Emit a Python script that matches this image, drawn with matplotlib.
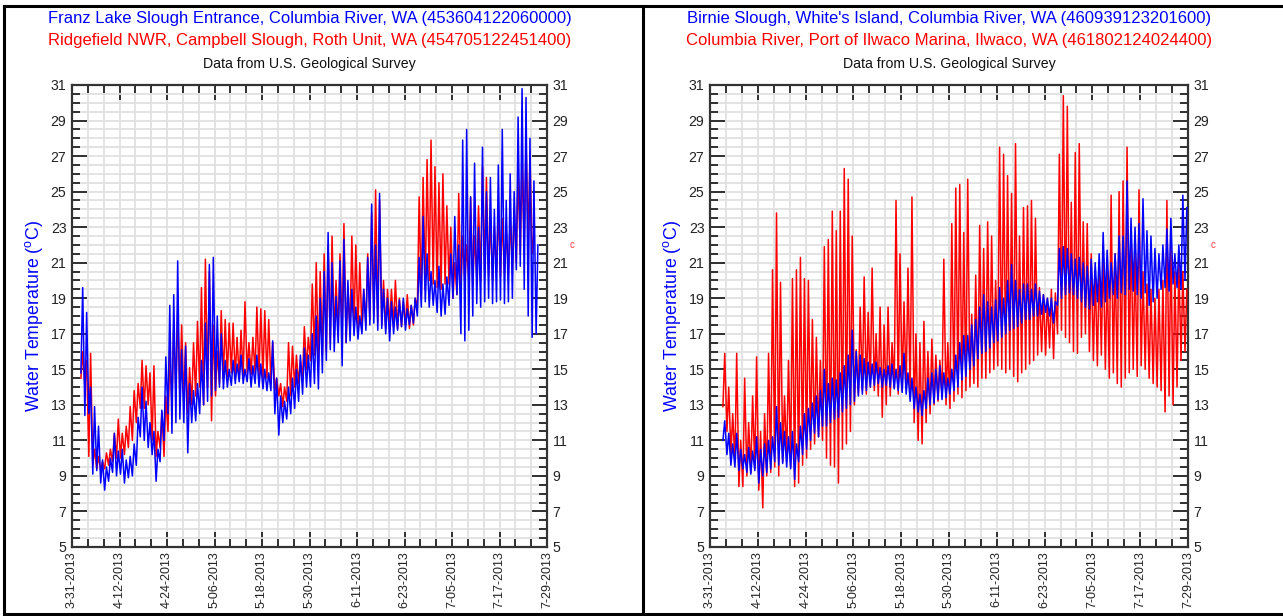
import matplotlib
matplotlib.use("Agg")
import matplotlib.pyplot as plt
from matplotlib.lines import Line2D
from matplotlib.ticker import MultipleLocator, FixedLocator

plt.rcParams['font.family'] = ['Liberation Sans', 'DejaVu Sans']
plt.rcParams['mathtext.fontset'] = 'custom'
plt.rcParams['mathtext.rm'] = 'Liberation Sans'
plt.rcParams['mathtext.it'] = 'Liberation Sans'

# x axis: days since 3-31-2013
date_labels = ["3-31-2013", "4-12-2013", "4-24-2013", "5-06-2013", "5-18-2013",
               "5-30-2013", "6-11-2013", "6-23-2013", "7-05-2013", "7-17-2013",
               "7-29-2013"]
label_days = [0, 12, 24, 36, 48, 60, 72, 84, 96, 108, 120]
y_ticks = list(range(5, 32, 2))

# Franz Lake Slough Entrance (blue, left) - daily max / min, from 4-02
franz_start = 2
franz_hi = [19.6, 18.2, 14.0, 12.9, 11.8, 9.9, 9.5, 10.0, 11.4, 10.4,
            10.5, 9.9, 10.1, 10.8, 12.3, 14.0, 13.2, 12.0, 11.5, 10.5,
            12.7, 15.7, 18.6, 19.2, 21.1, 16.1, 16.3, 14.2, 13.8, 14.2,
            15.5, 17.6, 20.9, 21.3, 18.0, 17.0, 15.5, 15.0, 15.5, 15.3,
            15.8, 15.0, 15.6, 15.2, 15.8, 15.3, 15.0, 14.8, 16.6, 14.5,
            13.5, 13.2, 14.0, 14.5, 15.0, 15.8, 16.2, 15.8, 17.0, 18.0,
            19.0, 20.5, 22.7, 21.0, 19.1, 21.1, 22.3, 20.0, 19.5, 18.5,
            18.0, 19.5, 21.3, 24.3, 22.0, 24.9, 19.5, 19.0, 18.8, 18.5,
            18.9, 19.0, 18.4, 18.6, 19.0, 21.3, 23.6, 21.5, 20.5, 20.0,
            20.8, 19.8, 20.2, 21.5, 23.6, 22.0, 27.9, 28.5, 24.7, 26.6,
            23.0, 27.5, 25.0, 25.8, 24.0, 26.5, 28.5, 24.5, 26.0, 25.0,
            29.2, 30.8, 30.3, 28.0, 25.6, 22.0]
franz_lo = [14.8, 12.4, 12.5, 9.1, 9.3, 8.6, 8.2, 8.7, 9.2, 9.0,
            9.1, 8.6, 8.9, 9.0, 9.6, 11.2, 11.0, 10.6, 10.2, 8.7,
            9.8, 11.0, 12.5, 11.4, 12.0, 12.2, 12.0, 10.3, 12.0, 12.1,
            12.5, 13.0, 13.2, 13.5, 13.8, 14.0, 13.9, 14.0, 14.1, 14.2,
            14.3, 14.2, 14.3, 14.0, 14.2, 14.0, 13.9, 13.8, 13.8, 12.5,
            11.3, 12.0, 12.2, 12.5, 12.8, 13.2, 13.6, 14.0, 14.0, 14.2,
            13.9, 14.8, 15.5, 16.1, 16.0, 16.5, 15.2, 16.5, 16.6, 16.9,
            16.7, 17.0, 17.2, 17.5, 17.6, 17.2, 17.3, 17.0, 16.6, 17.0,
            17.2, 17.4, 17.2, 17.5, 17.6, 18.0, 18.5, 18.8, 18.5, 18.6,
            18.2, 18.0, 18.1, 18.6, 19.0, 19.2, 17.0, 16.6, 17.2, 18.0,
            18.7, 18.5, 18.8, 19.0, 18.7, 18.8, 18.9, 18.7, 18.8, 19.0,
            20.6, 20.8, 19.5, 18.0, 16.8, 17.0]

# Ridgefield NWR, Campbell Slough (red, left) - daily max / min, from 4-02
ridge_start = 2
ridge_hi = [16.0, 15.5, 15.9, 10.5, 10.1, 9.8, 10.3, 10.5, 11.4, 12.2,
            11.4, 11.8, 12.9, 13.8, 14.2, 15.5, 15.2, 14.8, 15.2, 11.5,
            12.6, 13.5, 16.0, 17.5, 18.3, 17.5, 16.5, 15.1, 16.5, 17.7,
            19.6, 21.2, 20.5, 17.5, 16.0, 18.3, 17.8, 17.6, 17.6, 16.8,
            17.2, 18.8, 16.5, 16.8, 18.5, 18.4, 18.3, 17.8, 16.5, 14.5,
            14.2, 14.0, 16.5, 16.3, 15.8, 15.5, 17.4, 16.8, 19.8, 21.0,
            20.5, 21.5, 22.0, 22.5, 20.0, 21.5, 23.2, 19.5, 22.5, 22.0,
            21.0, 19.5, 21.5, 23.8, 25.1, 24.5, 20.0, 19.5, 19.5, 20.0,
            19.0, 18.8, 19.2, 18.6, 19.0, 24.7, 25.8, 26.8, 27.9, 26.4,
            25.5, 26.0, 24.2, 23.0, 21.0, 24.9, 22.5, 22.0, 24.7, 22.5,
            24.2, 26.4, 25.8, 23.5, 23.0, 24.0, 23.5, 22.8, 23.5, 24.0,
            26.2, 26.5, 27.9, 27.0, 22.6]
ridge_lo = [14.5, 14.0, 10.1, 9.6, 9.4, 9.3, 9.4, 9.6, 9.8, 10.0,
            10.0, 10.2, 10.6, 11.0, 12.0, 12.8, 12.8, 13.0, 11.0, 10.1,
            10.6, 10.1, 11.5, 13.0, 13.8, 13.5, 13.2, 12.5, 13.0, 13.5,
            14.0, 13.0, 14.0, 12.1, 13.5, 14.2, 14.5, 14.6, 14.8, 14.6,
            14.5, 14.6, 14.8, 14.7, 14.8, 14.6, 14.5, 14.5, 14.2, 13.8,
            13.5, 12.9, 13.2, 13.5, 14.0, 14.2, 14.5, 15.0, 15.5, 15.8,
            15.2, 15.8, 16.0, 16.5, 16.8, 17.0, 17.0, 16.5, 17.2, 17.4,
            17.3, 17.2, 17.5, 17.8, 18.0, 17.6, 17.5, 17.3, 17.5, 17.4,
            17.3, 17.4, 17.5, 17.3, 17.5, 18.5, 19.0, 19.5, 20.0, 19.8,
            19.6, 19.5, 19.8, 19.8, 19.0, 19.2, 19.5, 19.8, 20.0, 19.8,
            20.2, 20.0, 20.5, 20.3, 20.0, 20.5, 20.2, 20.4, 20.3, 20.6,
            21.0, 21.5, 22.0, 22.3, 21.5]

# Birnie Slough, White's Island (blue, right) - daily max / min, from 4-03
birnie_start = 3
birnie_hi = [12.1, 11.4, 10.8, 11.4, 10.5, 10.2, 10.6, 10.4, 11.2, 10.5,
             10.8, 11.0, 11.2, 12.9, 12.0, 11.5, 11.2, 11.5, 10.8, 11.8,
             12.5, 12.8, 13.1, 13.5, 13.8, 15.0, 14.2, 14.5, 14.4, 14.8,
             15.2, 15.8, 17.2, 16.0, 15.8, 15.6, 15.4, 15.3, 15.4, 15.1,
             15.0, 15.2, 15.3, 15.0, 15.2, 15.9, 14.8, 14.5, 14.0, 13.6,
             13.8, 14.5, 14.8, 15.0, 15.2, 14.8, 14.5, 15.0, 15.8, 16.5,
             16.9, 16.9, 17.5, 17.8, 18.5, 19.2, 18.8, 18.5, 18.9, 19.6,
             19.0, 20.0, 20.9, 20.0, 19.5, 19.8, 19.8, 19.5, 19.8, 19.4,
             19.2, 19.0, 19.0, 18.8, 21.8, 21.9, 21.8, 21.5, 21.2, 21.3,
             21.0, 20.8, 21.2, 21.0, 21.5, 22.7, 21.7, 21.0, 21.5, 22.5,
             22.5, 25.6, 23.5, 23.0, 23.2, 24.6, 22.8, 22.5, 21.8, 21.5,
             22.0, 22.9, 23.5, 21.5, 22.0, 24.8, 24.1]
birnie_lo = [11.0, 10.2, 9.6, 9.5, 9.3, 9.4, 9.2, 9.1, 9.3, 8.6,
             9.0, 9.2, 9.4, 9.8, 9.6, 9.7, 9.5, 9.4, 8.8, 9.8,
             10.2, 10.5, 11.0, 11.4, 11.2, 11.8, 11.8, 12.0, 12.2, 12.3,
             12.6, 12.8, 13.0, 13.2, 13.5, 13.6, 13.8, 14.0, 14.1, 14.2,
             14.0, 14.1, 14.0, 13.9, 13.8, 13.7, 13.6, 13.2, 12.8, 12.6,
             12.4, 12.8, 13.0, 13.1, 13.3, 13.3, 13.4, 13.6, 13.8, 14.0,
             14.4, 14.6, 15.0, 15.2, 15.6, 15.9, 16.0, 16.2, 16.5, 16.6,
             16.8, 17.0, 17.2, 17.3, 17.4, 17.6, 17.8, 17.8, 18.0, 18.0,
             18.1, 18.2, 18.0, 17.6, 18.6, 19.0, 19.2, 19.3, 19.2, 19.0,
             18.8, 18.5, 18.4, 18.6, 18.8, 18.5, 18.8, 19.0, 19.2, 19.0,
             19.3, 19.2, 19.5, 19.4, 19.2, 19.0, 19.3, 18.6, 18.8, 19.0,
             19.5, 19.6, 19.4, 19.8, 19.6, 19.5, 20.0]

# Columbia River, Port of Ilwaco Marina (red, right) - daily max / min, from 4-03
ilwaco_start = 3
ilwaco_hi = [15.9, 14.0, 12.5, 15.9, 11.0, 14.5, 12.0, 13.5, 15.7, 11.5,
             12.5, 15.9, 20.6, 23.8, 19.9, 13.5, 15.5, 20.1, 20.6, 21.3,
             20.1, 20.0, 17.8, 16.8, 15.5, 21.9, 22.3, 23.9, 22.8, 23.9,
             26.3, 25.7, 22.5, 16.1, 18.5, 20.2, 18.2, 20.7, 17.0, 18.5,
             17.5, 18.5, 16.5, 24.5, 21.5, 18.8, 20.7, 24.7, 17.0, 16.5,
             17.7, 16.0, 16.7, 15.8, 15.5, 21.2, 16.5, 23.2, 25.2, 25.4,
             22.7, 25.7, 18.1, 20.3, 23.1, 21.8, 23.3, 22.5, 20.0, 27.5,
             27.1, 25.9, 24.9, 27.7, 22.5, 24.1, 24.2, 24.5, 23.5, 19.6,
             19.2, 19.0, 19.5, 19.3, 27.1, 30.4, 29.8, 24.4, 27.2, 27.7,
             23.3, 23.2, 21.5, 20.5, 21.0, 22.0, 20.5, 24.8, 21.5, 25.0,
             25.6, 27.5, 23.0, 21.5, 25.1, 20.5, 19.8, 19.5, 19.0, 19.5,
             20.0, 24.5, 22.0, 20.5, 21.0, 20.5, 19.5]
ilwaco_lo = [12.9, 11.5, 10.2, 9.8, 8.4, 8.4, 9.0, 9.2, 9.4, 8.2,
             7.2, 9.0, 9.2, 9.5, 9.0, 9.8, 10.0, 9.5, 8.4, 8.6,
             9.6, 10.0, 10.5, 10.8, 11.2, 11.0, 10.0, 9.6, 9.5, 8.6,
             10.5, 10.8, 11.5, 13.0, 13.6, 13.8, 13.6, 14.0, 13.8, 13.5,
             12.3, 13.0, 13.5, 14.0, 13.6, 13.8, 13.9, 13.5, 12.0, 11.0,
             10.8, 12.0, 12.5, 13.0, 13.2, 13.5, 13.0, 12.8, 13.2, 13.6,
             13.4, 13.8, 14.0, 14.2, 14.0, 14.5, 14.5, 14.8, 15.0, 15.2,
             15.0, 14.8, 15.0, 14.6, 14.3, 14.8, 15.0, 15.3, 15.5, 15.8,
             16.0, 15.8, 16.2, 15.6, 17.0, 17.2, 16.8, 16.5, 16.0, 15.9,
             16.8, 17.0, 16.0, 15.5, 15.2, 15.8, 15.0, 14.5, 14.8, 14.2,
             14.0, 14.5, 14.8, 15.0, 14.6, 15.2, 15.0, 14.5, 14.2, 14.0,
             13.8, 12.6, 13.5, 13.0, 14.0, 15.5, 16.0]

panels = [
    dict(rect=[72, 85, 547, 547],
         titles=["Franz Lake Slough Entrance, Columbia River, WA (453604122060000)",
                 "Ridgefield NWR, Campbell Slough, Roth Unit, WA (454705122451400)"],
         blue=(franz_start, franz_hi, franz_lo),
         red=(ridge_start, ridge_hi, ridge_lo)),
    dict(rect=[710, 85, 1188, 547],
         titles=["Birnie Slough, White's Island, Columbia River, WA (460939123201600)",
                 "Columbia River, Port of Ilwaco Marina, Ilwaco, WA (461802124024400)"],
         blue=(birnie_start, birnie_hi, birnie_lo),
         red=(ilwaco_start, ilwaco_hi, ilwaco_lo)),
]

W, H = 1283, 616
fig = plt.figure(figsize=(W / 100, H / 100), dpi=100)


def diurnal(start, hi, lo):
    """Daily low in the early morning, daily high in the afternoon."""
    xs, ys = [], []
    for i, (h, l) in enumerate(zip(hi, lo)):
        d = start + i
        xs += [d + 0.25, d + 0.7]
        ys += [l, h]
    return xs, ys


for p in panels:
    x0, y0, x1, y1 = p["rect"]
    ax = fig.add_axes([x0 / W, 1 - y1 / H, (x1 - x0) / W, (y1 - y0) / H])
    ax.set_xlim(0, 120)
    ax.set_ylim(5, 31)

    xr, yr = diurnal(*p["red"])
    ax.plot(xr, yr, color="#ff0000", lw=1.1, zorder=3)
    xb, yb = diurnal(*p["blue"])
    ax.plot(xb, yb, color="#0000ff", lw=1.1, zorder=4)

    ax.xaxis.set_major_locator(FixedLocator(label_days))
    ax.set_xticklabels(date_labels, rotation=90, fontsize=9)
    ax.xaxis.set_minor_locator(MultipleLocator(4))
    ax.yaxis.set_major_locator(FixedLocator(y_ticks))
    ax.yaxis.set_minor_locator(MultipleLocator(0.5))
    ax.tick_params(which="both", direction="in", top=True, right=True,
                   labelright=True, colors="#222222", width=1.3, pad=4)
    ax.tick_params(axis="x", pad=3)
    ax.tick_params(axis="y", labelsize=10.2)
    ax.tick_params(which="major", length=11)
    ax.tick_params(which="minor", length=6)
    ax.grid(True, which="both", color="#e0e0e0", lw=1.3, zorder=0)
    ax.set_axisbelow(True)
    for s in ax.spines.values():
        s.set_linewidth(1.6)
        s.set_color("#333333")

    ax.set_ylabel("Water Temperature ($^{\\rm o}$C)", color="#0000ff",
                  fontsize=12.8, labelpad=4)

    cx = (x0 + x1) / 2 / W
    fig.text(cx, 1 - 18 / H, p["titles"][0], color="#0000ff", fontsize=12,
             ha="center", va="center")
    fig.text(cx, 1 - 40 / H, p["titles"][1], color="#ff0000", fontsize=12,
             ha="center", va="center")
    fig.text(cx, 1 - 64 / H, "Data from U.S. Geological Survey", color="#111111",
             fontsize=10.2, ha="center", va="center")
    # clipped stub of the right-hand axis label
    fig.text((x1 + 25) / W, 1 - 245 / H, "c", color="#ff4040", fontsize=7,
             ha="center", va="center")

# document table frame around the two charts
frame = dict(color="black", lw=2.2, transform=fig.transFigure)
fig.add_artist(Line2D([4 / W, 4 / W], [1 - 6 / H, 1 - 614 / H], **frame))
fig.add_artist(Line2D([643 / W, 643 / W], [1 - 6 / H, 1 - 614 / H], **frame))
fig.add_artist(Line2D([4 / W, 1], [1 - 6 / H, 1 - 6 / H], **frame))
fig.add_artist(Line2D([4 / W, 1], [1 - 614 / H, 1 - 614 / H], **frame))

fig.savefig("out.png", dpi=100)
